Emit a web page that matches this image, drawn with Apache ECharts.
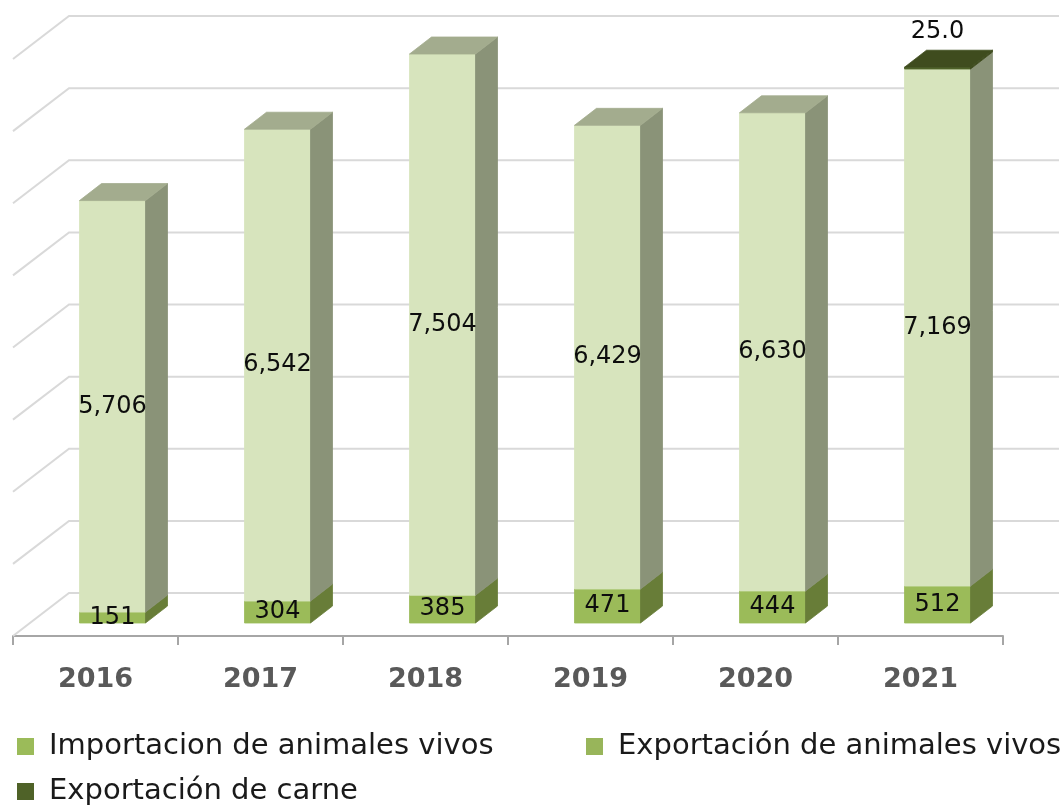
<!DOCTYPE html>
<html><head><meta charset="utf-8">
<script src="https://cdn.jsdelivr.net/npm/echarts@6/dist/echarts.min.js"></script>
<style>html,body{margin:0;padding:0;background:#fff}#c{width:1060px;height:805px}</style>
</head><body><div id="c"></div>
<script>
// ---- data ----
const years = ['2016', '2017', '2018', '2019', '2020', '2021'];
const importacionVivos = [151, 304, 385, 471, 444, 512];
const exportacionVivos = [5706, 6542, 7504, 6429, 6630, 7169];
const exportacionCarne = [null, null, null, null, null, 25.0];
const yTicks = [0, 1000, 2000, 3000, 4000, 5000, 6000, 7000, 8000];
const seriesNames = ['Importacion de animales vivos', 'Exportación de animales vivos', 'Exportación de carne'];

// ---- 3D look (styling only) ----
const WX = 56, WY = -43;   // wall depth
const FX = 17, FY = -13;   // front face offset
const DX = 22, DY = -17;   // bar depth
const HW = 33;             // half bar width
const FONT = 'DejaVu Sans';

const stacks = [importacionVivos, exportacionVivos, exportacionCarne];
const seriesData = [];
const base = years.map(() => 0);
stacks.forEach((arr, s) => {
  const d = [];
  arr.forEach((v, i) => {
    const b = base[i];
    const t = b + (v || 0);
    // is there a non-empty segment above this one?
    let above = 0;
    for (let k = s + 1; k < stacks.length; k++) { if (stacks[k][i]) above = 1; }
    d.push([i, b, t, v == null ? NaN : v, above]);
    base[i] = t;
  });
  seriesData.push(d);
});

function fmtThousands(v) { return Math.round(v).toLocaleString('en-US'); }
function fmtOne(v) { return v.toFixed(1); }

function face(type, shape, color, z2) {
  return { type: type, z2: z2, shape: shape, style: { fill: color, stroke: color, lineWidth: 0.8 } };
}

function makeBarRender(colors, labelPos, fmt, zb) {
  return function (params, api) {
    const v = api.value(3);
    if (v == null || isNaN(v) || v === 0) return;
    const i = api.value(0);
    const above = api.value(4);
    const p0 = api.coord([i, api.value(1)]);
    const p1 = api.coord([i, api.value(2)]);
    const cx = p0[0] + FX;
    const xl = cx - HW, xr = cx + HW;
    const yb = p0[1] + FY, yt = p1[1] + FY;
    const children = [
      face('rect', { x: xl, y: yt, width: xr - xl, height: Math.max(yb - yt, 0.5) }, colors.front, zb),
      face('polygon', { points: [[xr, yt], [xr + DX, yt + DY], [xr + DX, yb + DY], [xr, yb]] }, colors.side, zb)
    ];
    if (!above) {
      children.push(face('polygon', { points: [[xl, yt], [xr, yt], [xr + DX, yt + DY], [xl + DX, yt + DY]] }, colors.top, zb));
    }
    let ty = (yt + yb) / 2;
    if (labelPos === 'top') ty = yt + DY - 18;
    children.push({
      type: 'text', z2: 50,
      style: { x: cx, y: ty, text: fmt(v), align: 'center', verticalAlign: 'middle',
        fill: '#0d0d0d', fontSize: 24, fontFamily: FONT }
    });
    return { type: 'group', children: children };
  };
}

const chart = echarts.init(document.getElementById('c'), null, { renderer: 'canvas' });

const legendText = { fontFamily: FONT, fontSize: 29, color: '#1a1a1a', padding: [0, 0, 0, 10] };
function legendAt(left, top, name) {
  return { left: left, top: top, padding: 0, orient: 'horizontal', icon: 'rect', itemWidth: 17, itemHeight: 17,
    data: [name], textStyle: legendText, selectedMode: true };
}

const option = {
  animation: false,
  backgroundColor: '#ffffff',
  grid: { left: 13, right: 57, top: 59, bottom: 169, containLabel: false },
  xAxis: {
    type: 'category', data: years, boundaryGap: true,
    axisLine: { show: true, lineStyle: { color: '#a6a6a6', width: 2 } },
    axisTick: { show: true, length: 9, lineStyle: { color: '#a6a6a6', width: 2 } },
    axisLabel: { fontFamily: FONT, fontWeight: 'bold', fontSize: 27, color: '#595959', margin: 30 },
    splitLine: { show: false }
  },
  yAxis: {
    type: 'value', min: 0, max: 8000, interval: 1000,
    axisLine: { show: false }, axisTick: { show: false }, axisLabel: { show: false },
    splitLine: { show: false }
  },
  legend: [
    legendAt(17, 732, seriesNames[0]),
    legendAt(586, 732, seriesNames[1]),
    legendAt(17, 777, seriesNames[2])
  ],
  series: [
    {
      type: 'custom', name: '_grid', z: 1, silent: true,
      data: yTicks.map(v => [0, v]), encode: { x: 0, y: 1 },
      renderItem: function (params, api) {
        const cs = params.coordSys;
        const y = api.coord([0, api.value(1)])[1];
        const x0 = cs.x, x1 = cs.x + cs.width;
        return { type: 'polyline', shape: { points: [[x0, y], [x0 + WX, y + WY], [x1 + WX, y + WY]] },
          style: { stroke: '#d9d9d9', lineWidth: 2, fill: null } };
      }
    },
    {
      type: 'custom', name: seriesNames[0], z: 2, itemStyle: { color: '#9bbb59' },
      data: seriesData[0], encode: { x: 0, y: [1, 2] },
      renderItem: makeBarRender({ front: '#9bbb59', side: '#687d38', top: '#7f9a45' }, 'inside', fmtThousands, 1)
    },
    {
      type: 'custom', name: seriesNames[1], z: 2, itemStyle: { color: '#98b55a' },
      data: seriesData[1], encode: { x: 0, y: [1, 2] },
      renderItem: makeBarRender({ front: '#d7e4bd', side: '#8a9378', top: '#a3ac8e' }, 'inside', fmtThousands, 2)
    },
    {
      type: 'custom', name: seriesNames[2], z: 2, itemStyle: { color: '#4f6228' },
      data: seriesData[2], encode: { x: 0, y: [1, 2] },
      renderItem: makeBarRender({ front: '#4f6228', side: '#3d4a1c', top: '#3f4c1e' }, 'top', fmtOne, 3)
    }
  ]
};
chart.setOption(option);
</script>
</body></html>
